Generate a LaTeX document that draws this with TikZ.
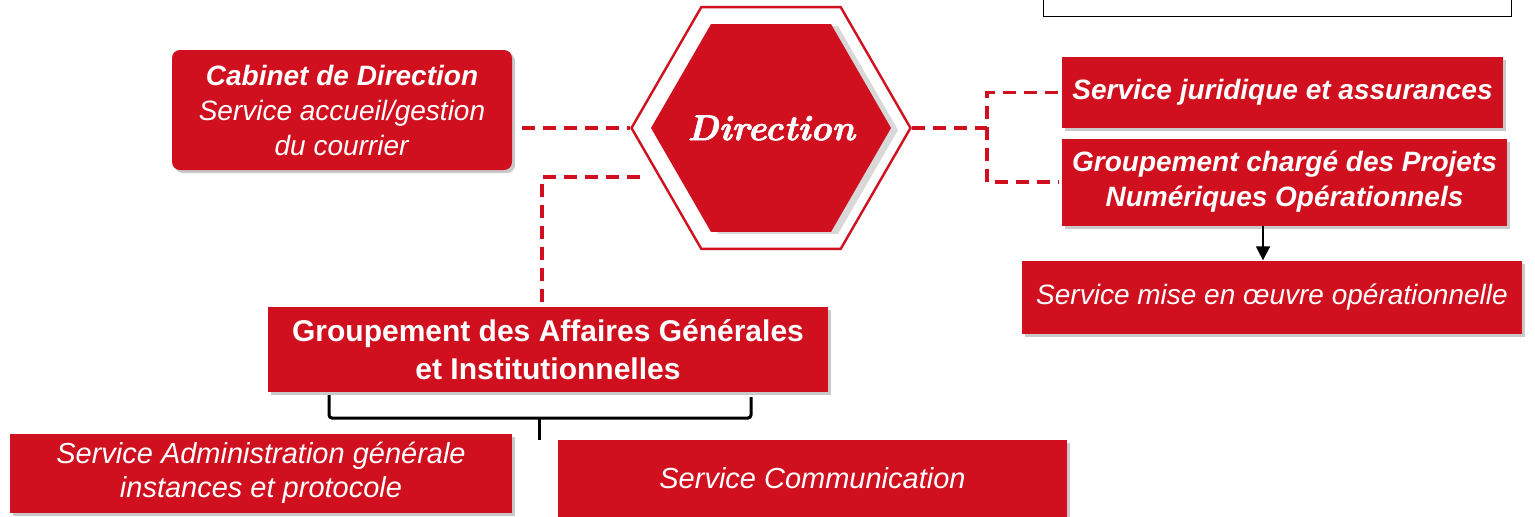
\documentclass[tikz,border=0pt]{standalone}
\usepackage{fontspec}
\setmainfont{Liberation Sans}
\newfontfamily\dirfont[Extension=.otf,UprightFont=*-bolditalic,FakeBold=1.6]{lmroman10}
\usetikzlibrary{shapes.geometric,shadows,arrows.meta,calc}
\definecolor{dred}{RGB}{208,16,30}
\begin{document}
\begin{tikzpicture}[x=1pt,y=-1pt,
  box/.style={fill=dred, text=white, align=center, inner sep=0pt,
    drop shadow={shadow xshift=3pt, shadow yshift=-3pt, opacity=0.35, fill=black!60}},
  dashline/.style={dred, line width=3.6pt, dash pattern=on 13pt off 8pt},
  brk/.style={black, line width=3pt, rounded corners=3pt},
  fA/.style={font=\fontsize{28}{35}\selectfont},
  fB/.style={font=\fontsize{30}{38}\selectfont\bfseries},
  fC/.style={font=\fontsize{29}{34}\selectfont\itshape}]
\useasboundingbox (0,0) rectangle (1535,517);
\fill[white] (0,0) rectangle (1535,517);

% top right frame (cut off)
\node[draw=black, line width=1.4pt, minimum width=468pt, minimum height=60pt,
      anchor=south west, inner sep=0pt] (tb) at (1043,17) {};

% hexagon
\node[regular polygon, regular polygon sides=6, minimum size=279pt, inner sep=0pt,
      draw=dred, line width=2.4pt, fill=white] (hex) at (771,128) {};
\node[regular polygon, regular polygon sides=6, minimum size=240pt, inner sep=0pt,
      fill=dred, drop shadow={shadow xshift=7pt, shadow yshift=-2pt, opacity=0.3, fill=black!50}] (hexin) at (771,128) {};
\node[text=white, font=\dirfont\fontsize{36}{40}\selectfont] (dir) at (771,128) {Direction};

% boxes
\node[box, fA, minimum width=340pt, minimum height=120pt, rounded corners=8pt] (cab) at (342,110)
  {\textbf{\textit{Cabinet de Direction}}\\\textit{Service accueil/gestion}\\\textit{du courrier}};
\node[box, fA, minimum width=441pt, minimum height=71pt] (sj) at (1282.5,92.5)
  {\textbf{\textit{Service juridique et assurances}}};
\node[box, fA, minimum width=445pt, minimum height=87pt] (gc) at (1284.5,182)
  {\textbf{\textit{Groupement chargé des Projets}}\\\textbf{\textit{Numériques Opérationnels}}};
\node[box, fA, minimum width=500pt, minimum height=73pt] (sm) at (1272,297)
  {\textit{Service mise en œuvre opérationnelle}};
\node[box, fB, minimum width=560pt, minimum height=85pt] (gag) at (548,349.5)
  {Groupement des Affaires Générales\\et Institutionnelles};
\node[box, fC, minimum width=502pt, minimum height=79pt] (sa) at (261,473)
  {Service Administration générale\\instances et protocole};
\node[box, fC, minimum width=509pt, minimum height=77pt] (sc) at (812.5,478.5)
  {Service Communication};

% dashed connectors
\draw[dashline] ([xshift=10pt]cab.east |- hex.west) -- (hex.west);
\coordinate (d2) at (640,177);
\draw[dashline] (d2) -| ([xshift=-6pt]gag.north);
\coordinate (rj) at (987,128);
\draw[dashline] (hex.east) -- (rj);
\draw[dashline] ([xshift=-4pt]sj.west) -| (rj) |- ([xshift=-4pt]gc.west);

% arrow
\draw[black, line width=1.8pt, -{Triangle[length=14pt,width=14pt]}]
  ([xshift=-9pt]sm.north |- gc.south) -- ([xshift=-9pt]sm.north);

% bracket
\coordinate (bL) at (329,395);
\coordinate (bM) at (539,418);
\coordinate (bR) at (751,397);
\coordinate (bT) at (539,440);
\draw[brk] (bL) |- (bM) -| (bR);
\draw[brk] (bM) -- (bT);
\end{tikzpicture}
\end{document}
